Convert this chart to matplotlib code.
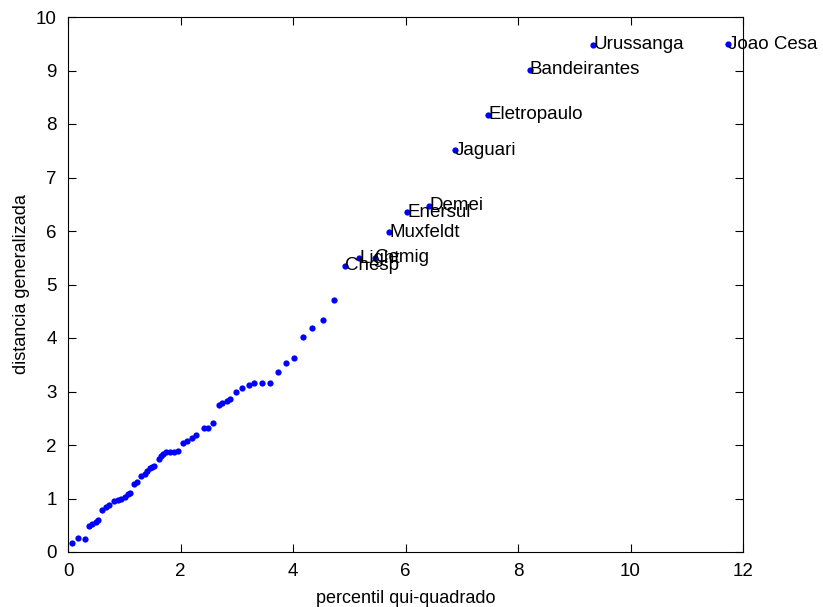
import matplotlib
matplotlib.use("Agg")
import matplotlib.pyplot as plt

# quantis qui-quadrado vs distancia generalizada (pontos sem rotulo)
qui_quad = [0.07, 0.18, 0.30, 0.37, 0.43, 0.49, 0.54, 0.60, 0.67, 0.73,
            0.82, 0.89, 0.95, 1.01, 1.07, 1.11, 1.17, 1.23, 1.30, 1.36,
            1.40, 1.45, 1.49, 1.53, 1.61, 1.65, 1.69, 1.74, 1.81, 1.89,
            1.95, 2.05, 2.11, 2.20, 2.27, 2.41, 2.48, 2.57, 2.68, 2.74,
            2.82, 2.88, 2.98, 3.09, 3.21, 3.31, 3.45, 3.59, 3.73, 3.87,
            4.01, 4.17, 4.34, 4.54, 4.73]
dist_gen = [0.16, 0.26, 0.25, 0.48, 0.52, 0.56, 0.59, 0.78, 0.85, 0.88,
            0.95, 0.97, 1.00, 1.03, 1.08, 1.11, 1.28, 1.31, 1.42, 1.46,
            1.52, 1.57, 1.59, 1.61, 1.74, 1.80, 1.83, 1.86, 1.86, 1.86,
            1.89, 2.04, 2.07, 2.14, 2.19, 2.32, 2.31, 2.42, 2.75, 2.79,
            2.82, 2.86, 2.99, 3.07, 3.13, 3.16, 3.16, 3.16, 3.36, 3.53,
            3.62, 4.02, 4.19, 4.34, 4.71]

# empresas destacadas
empresas = ["Chesp", "Light", "Cemig", "Muxfeldt", "Enersul", "Demei",
            "Jaguari", "Eletropaulo", "Bandeirantes", "Urussanga", "Joao Cesa"]
emp_x = [4.92, 5.18, 5.45, 5.71, 6.03, 6.42, 6.88, 7.47, 8.21, 9.34, 11.74]
emp_y = [5.35, 5.49, 5.50, 5.98, 6.35, 6.47, 7.51, 8.17, 9.01, 9.48, 9.49]

plt.rcParams['font.family'] = ['Liberation Sans', 'DejaVu Sans']

fig = plt.figure(figsize=(8.23, 6.07), dpi=100)
ax = fig.add_axes([68 / 823, 55 / 607, 675 / 823, 535 / 607])

ax.plot(qui_quad + emp_x, dist_gen + emp_y, 'o', color='blue',
        markersize=4.5, markeredgewidth=0, linestyle='none')

for nome, x, y in zip(empresas, emp_x, emp_y):
    ax.text(x, y, nome, fontsize=13.5, ha='left', va='center', clip_on=False)

ax.set_xlim(0, 12)
ax.set_ylim(0, 10)
ax.set_xticks(range(0, 13, 2))
ax.set_yticks(range(0, 11))
ax.tick_params(direction='in', top=True, right=True, length=6, labelsize=13.5)
ax.tick_params(axis='x', pad=8)
ax.tick_params(axis='y', pad=8)
ax.set_xlabel("percentil qui-quadrado", fontsize=13, labelpad=7)
ax.set_ylabel("distancia generalizada", fontsize=13, labelpad=4)

fig.savefig("out.png", dpi=100)
